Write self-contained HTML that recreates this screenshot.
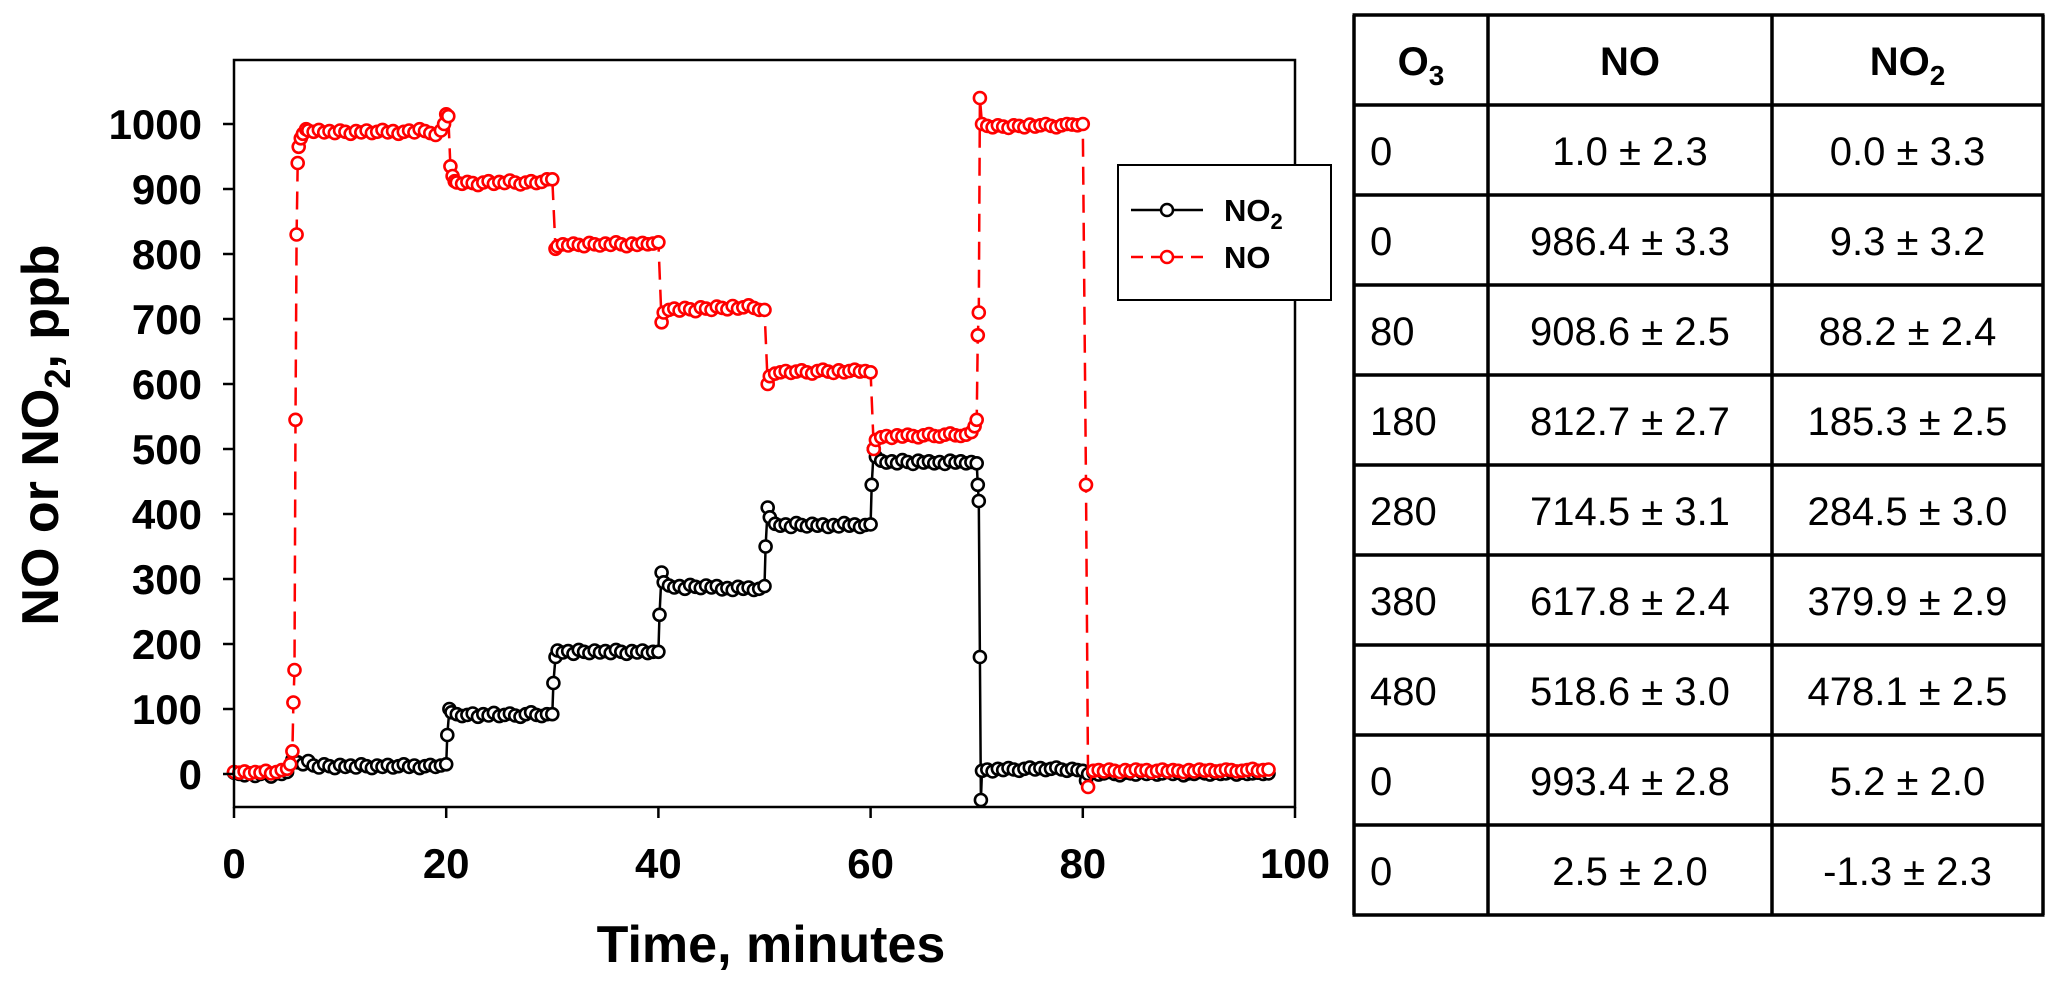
<!DOCTYPE html>
<html><head><meta charset="utf-8"><style>
html,body{margin:0;padding:0;background:#fff;width:2067px;height:989px;overflow:hidden}
svg{display:block}
</style></head><body>
<svg id="chart" width="2067" height="989" xmlns="http://www.w3.org/2000/svg" font-family="'Liberation Sans', sans-serif">
<g id="plot"></g>
<g id="table"></g>
</svg>
<script>
// [time (min), ppb]
const noData=[[0,3],[0.5,2],[1,4],[1.5,1],[2,3],[2.5,2],[3,5],[3.5,1],[4,3],[4.5,6],[5,8],[5.3,15],[5.5,35],[5.6,110],[5.7,160],[5.8,545],[5.9,830],[6,940],[6.1,965],[6.3,978],[6.5,985],[6.8,992],[7,990],[7.5,988],[8,991],[8.5,987],[9,989],[9.5,986],[10,990],[10.5,988],[11,985],[11.5,989],[12,987],[12.5,990],[13,986],[13.5,988],[14,991],[14.5,987],[15,989],[15.5,985],[16,988],[16.5,990],[17,987],[17.5,992],[18,989],[18.5,986],[19,983],[19.5,990],[19.8,1000],[20,1015],[20.2,1012],[20.4,935],[20.6,920],[20.8,912],[21,910],[21.5,908],[22,911],[22.5,909],[23,906],[23.5,910],[24,912],[24.5,908],[25,911],[25.5,909],[26,913],[26.5,910],[27,907],[27.5,910],[28,912],[28.5,909],[29,911],[29.5,915],[30,915],[30.3,808],[30.5,812],[31,815],[31.5,813],[32,816],[32.5,814],[33,812],[33.5,817],[34,815],[34.5,813],[35,816],[35.5,814],[36,818],[36.5,815],[37,812],[37.5,816],[38,814],[38.5,817],[39,815],[39.5,816],[40,818],[40.3,695],[40.5,710],[41,714],[41.5,716],[42,713],[42.5,717],[43,715],[43.5,712],[44,718],[44.5,716],[45,714],[45.5,719],[46,717],[46.5,715],[47,720],[47.5,716],[48,718],[48.5,721],[49,717],[49.5,714],[50,714],[50.3,600],[50.5,612],[51,616],[51.5,618],[52,620],[52.5,617],[53,619],[53.5,621],[54,618],[54.5,616],[55,620],[55.5,622],[56,619],[56.5,617],[57,621],[57.5,618],[58,620],[58.5,622],[59,619],[59.5,620],[60,618],[60.3,500],[60.5,514],[61,518],[61.5,520],[62,517],[62.5,521],[63,519],[63.5,522],[64,520],[64.5,518],[65,521],[65.5,523],[66,520],[66.5,519],[67,522],[67.5,524],[68,521],[68.5,520],[69,522],[69.5,526],[69.8,535],[70,545],[70.1,675],[70.2,710],[70.3,1040],[70.5,1000],[71,997],[71.5,995],[72,998],[72.5,996],[73,994],[73.5,998],[74,997],[74.5,995],[75,999],[75.5,996],[76,998],[76.5,1000],[77,997],[77.5,995],[78,998],[78.5,1000],[79,999],[79.5,998],[80,1000],[80.3,445],[80.5,-20],[81,5],[81.5,6],[82,4],[82.5,7],[83,5],[83.5,3],[84,6],[84.5,4],[85,7],[85.5,5],[86,6],[86.5,3],[87,5],[87.5,7],[88,4],[88.5,6],[89,5],[89.5,3],[90,6],[90.5,4],[91,7],[91.5,5],[92,6],[92.5,4],[93,5],[93.5,7],[94,6],[94.5,4],[95,5],[95.5,6],[96,8],[96.5,5],[97,6],[97.5,7]];
const no2Data=[[0,2],[0.5,0],[1,-2],[1.5,1],[2,-3],[2.5,0],[3,2],[3.5,-4],[4,1],[4.5,0],[5,3],[5.5,22],[6,18],[6.5,15],[7,20],[7.5,13],[8,10],[8.5,15],[9,12],[9.5,9],[10,14],[10.5,11],[11,13],[11.5,10],[12,15],[12.5,12],[13,9],[13.5,13],[14,11],[14.5,14],[15,10],[15.5,12],[16,15],[16.5,11],[17,13],[17.5,9],[18,12],[18.5,14],[19,11],[19.5,13],[20,15],[20.1,60],[20.3,100],[20.5,95],[21,92],[21.5,89],[22,91],[22.5,93],[23,88],[23.5,92],[24,90],[24.5,94],[25,89],[25.5,91],[26,93],[26.5,90],[27,88],[27.5,92],[28,95],[28.5,91],[29,89],[29.5,92],[30,92],[30.1,140],[30.3,180],[30.5,190],[31,187],[31.5,189],[32,185],[32.5,191],[33,188],[33.5,186],[34,190],[34.5,187],[35,189],[35.5,186],[36,191],[36.5,188],[37,185],[37.5,189],[38,187],[38.5,190],[39,186],[39.5,188],[40,188],[40.1,245],[40.3,310],[40.5,295],[41,290],[41.5,287],[42,289],[42.5,285],[43,291],[43.5,288],[44,286],[44.5,290],[45,287],[45.5,289],[46,284],[46.5,286],[47,283],[47.5,288],[48,285],[48.5,287],[49,283],[49.5,285],[50,289],[50.1,350],[50.3,410],[50.5,395],[51,385],[51.5,382],[52,384],[52.5,380],[53,386],[53.5,383],[54,381],[54.5,385],[55,382],[55.5,384],[56,380],[56.5,383],[57,381],[57.5,386],[58,382],[58.5,384],[59,380],[59.5,383],[60,384],[60.1,445],[60.3,500],[60.5,488],[61,482],[61.5,479],[62,481],[62.5,478],[63,483],[63.5,480],[64,477],[64.5,482],[65,479],[65.5,481],[66,478],[66.5,480],[67,477],[67.5,482],[68,479],[68.5,481],[69,478],[69.5,480],[70,478],[70.1,445],[70.2,420],[70.3,180],[70.4,-40],[70.5,5],[71,7],[71.5,4],[72,8],[72.5,6],[73,9],[73.5,7],[74,5],[74.5,8],[75,10],[75.5,7],[76,9],[76.5,6],[77,8],[77.5,10],[78,7],[78.5,5],[79,8],[79.5,6],[80,5],[80.3,-10],[80.5,0],[81,2],[81.5,-1],[82,1],[82.5,3],[83,0],[83.5,-2],[84,2],[84.5,1],[85,-1],[85.5,3],[86,0],[86.5,2],[87,-1],[87.5,1],[88,3],[88.5,0],[89,2],[89.5,-2],[90,1],[90.5,0],[91,3],[91.5,1],[92,-1],[92.5,2],[93,0],[93.5,1],[94,3],[94.5,-1],[95,2],[95.5,0],[96,1],[96.5,2],[97,0],[97.5,1]];
const xTicks=[0,20,40,60,80,100];
const yTicks=[0,100,200,300,400,500,600,700,800,900,1000];
const tableO3=["0","0","80","180","280","380","480","0","0"];
const tableNO=["1.0 ± 2.3","986.4 ± 3.3","908.6 ± 2.5","812.7 ± 2.7","714.5 ± 3.1","617.8 ± 2.4","518.6 ± 3.0","993.4 ± 2.8","2.5 ± 2.0"];
const tableNO2=["0.0 ± 3.3","9.3 ± 3.2","88.2 ± 2.4","185.3 ± 2.5","284.5 ± 3.0","379.9 ± 2.9","478.1 ± 2.5","5.2 ± 2.0","-1.3 ± 2.3"];

const NS="http://www.w3.org/2000/svg";
const L=234,R=1295,T=60,B=807;
const xs=t=>L+t*(R-L)/100;
const ys=v=>774-v*0.65;
function mk(tag,attrs,parent){const e=document.createElementNS(NS,tag);for(const k in attrs)e.setAttribute(k,attrs[k]);parent.appendChild(e);return e;}
const plot=document.getElementById('plot');

function series(data,color,dash,name){
  const g=mk('g',{},plot);
  
  
  const d=data.map((p,i)=>(i?'L':'M')+xs(p[0]).toFixed(1)+','+ys(p[1]).toFixed(1)).join('');
  const p=mk('path',{d:d,fill:'none',stroke:color,'stroke-width':2.5},g);
  if(dash)p.setAttribute('stroke-dasharray',dash);
  
  
  data.forEach(pt=>{
    const c=mk('circle',{cx:xs(pt[0]).toFixed(1),cy:ys(pt[1]).toFixed(1),r:6,fill:'#fff',stroke:color,'stroke-width':2.6},g);
    
    
  });
}
series(no2Data,'#000',null,'no2');
series(noData,'#ff0000','18,10','no');

const fr=mk('rect',{x:L,y:T,width:R-L,height:B-T,fill:'none',stroke:'#000','stroke-width':2.5},plot);


yTicks.forEach(v=>{
  const y=ys(v);
  const tk=mk('line',{x1:L-11,x2:L,y1:y,y2:y,stroke:'#000','stroke-width':2.5},plot);
  
  
  const tx=mk('text',{x:L-32,y:y+15,'text-anchor':'end','font-size':42,'font-weight':'bold'},plot);
  tx.textContent=v;
  
  
});
xTicks.forEach(v=>{
  const x=xs(v);
  const tk=mk('line',{x1:x,x2:x,y1:B,y2:B+11,stroke:'#000','stroke-width':2.5},plot);
  
  
  const tx=mk('text',{x:x,y:878,'text-anchor':'middle','font-size':42,'font-weight':'bold'},plot);
  tx.textContent=v;
  
  
});
const xt=mk('text',{x:771,y:962,'text-anchor':'middle','font-size':52,'font-weight':'bold'},plot);
xt.textContent='Time, minutes';


const yt=mk('text',{x:0,y:0,'text-anchor':'middle','font-size':52,'font-weight':'bold',transform:'translate(58,435) rotate(-90)'},plot);
yt.innerHTML='NO or NO<tspan font-size="36" dy="12">2</tspan><tspan dy="-12">, ppb</tspan>';



const lg=mk('g',{},plot);


mk('rect',{x:1118,y:165,width:213,height:135,fill:'#fff',stroke:'#000','stroke-width':2},lg);
[['no2','#000',null,210,'NO<tspan font-size="22" dy="8">2</tspan>'],['no','#ff0000','12,8',257,'NO']].forEach(e=>{
  const it=mk('g',{},lg);
  
  
  const ln=mk('line',{x1:1131,x2:1203,y1:e[3],y2:e[3],stroke:e[1],'stroke-width':2.5},it);
  if(e[2])ln.setAttribute('stroke-dasharray',e[2]);
  mk('circle',{cx:1167,cy:e[3],r:6,fill:'#fff',stroke:e[1],'stroke-width':2.5},it);
  const t=mk('text',{x:1224,y:e[3]+11,'font-size':31,'font-weight':'bold'},it);
  t.innerHTML=e[4];
});

const tb=document.getElementById('table');
const TX=[1354,1488,1772,2043],TT=15,RH=90;
const rows=tableO3.length+1;
for(let r=0;r<=rows;r++){const y=TT+r*RH;const l=mk('line',{x1:TX[0]-1.5,x2:TX[3]+1.5,y1:y,y2:y,stroke:'#000','stroke-width':3.5},tb);}
TX.forEach(x=>{const l=mk('line',{x1:x,x2:x,y1:TT,y2:TT+rows*RH,stroke:'#000','stroke-width':3.5},tb);});
const hdr=[['O','3',(TX[0]+TX[1])/2],['NO','',(TX[1]+TX[2])/2],['NO','2',(TX[2]+TX[3])/2]];
hdr.forEach((h,i)=>{
  const t=mk('text',{x:h[2],y:TT+60,'text-anchor':'middle','font-size':40,'font-weight':'bold'},tb);
  t.innerHTML=h[0]+(h[1]?'<tspan font-size="28" dy="10">'+h[1]+'</tspan>':'');
  
  
});
tableO3.forEach((v,i)=>{
  const y=TT+(i+1)*RH+60;
  const a=mk('text',{x:TX[0]+16,y:y,'font-size':40},tb);a.textContent=v;
  
  
  const b=mk('text',{x:(TX[1]+TX[2])/2,y:y,'text-anchor':'middle','font-size':40},tb);b.textContent=tableNO[i];
  
  
  const c=mk('text',{x:(TX[2]+TX[3])/2,y:y,'text-anchor':'middle','font-size':40},tb);c.textContent=tableNO2[i];
  
  
});
</script>
</body></html>
